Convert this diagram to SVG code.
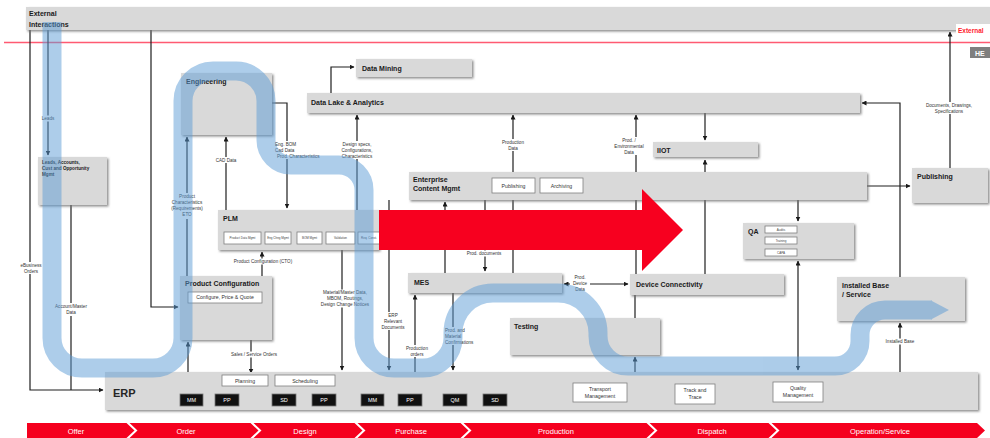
<svg xmlns="http://www.w3.org/2000/svg" width="990" height="438" viewBox="0 0 990 438">
<defs>
<filter id="sh" x="-5%" y="-5%" width="115%" height="130%">
<feDropShadow dx="1.5" dy="1.5" stdDeviation="0.8" flood-color="#6f6f6f" flood-opacity="0.8"/>
</filter>
<marker id="a" viewBox="0 0 10 10" refX="9" refY="5" markerWidth="5" markerHeight="5" markerUnits="userSpaceOnUse" orient="auto-start-reverse">
<path d="M0,0 L10,5 L0,10 z" fill="#1a1a1a"/>
</marker>
<style>
text{font-family:"Liberation Sans",Arial,sans-serif;}
.box{fill:#d9d9d9;filter:url(#sh);}
.tt{font-size:7px;font-weight:bold;fill:#1a1a1a;}
.ln{stroke:#1f1f1f;stroke-width:1.2;fill:none;}
.ar{marker-end:url(#a);}
.ab{marker-start:url(#a);marker-end:url(#a);}
.lb rect{fill:#fff;}
.lb text{font-size:4.6px;fill:#333;text-anchor:middle;}
.lb text.l{text-anchor:start;}
.sub{fill:#fff;stroke:#7f7f7f;stroke-width:0.8;}
.st{font-size:5.2px;fill:#333;text-anchor:middle;}
.tiny{font-size:3px;fill:#444;text-anchor:middle;}
.blk{fill:#111;stroke:#777;stroke-width:0.8;}
.bt{font-size:5.5px;fill:#fff;text-anchor:middle;}
.ph{fill:#f5001e;}
.pt{font-size:7.5px;fill:#fff;text-anchor:middle;}
</style>
</defs>
<rect width="990" height="438" fill="#fff"/>

<!-- red boundary line -->
<line x1="4" y1="42.5" x2="990" y2="42.5" stroke="#ff5a72" stroke-width="1.3"/>

<g id="connectors">
<path class="ln ar" d="M48,30 V155"/>
<path class="ln ar" d="M30,30 V390 H103"/>
<path class="ln" d="M71,205 V390"/>
<path class="ln ar" d="M151,30 V307 H178"/>
<path class="ln ar" d="M272,103 H287 V208"/>
<path class="ln ar" d="M226,210 V137"/>
<path class="ln ar" d="M187,276 V137"/>
<path class="ln ar" d="M262,276 V252"/>
<path class="ln ar" d="M188,372 V342"/>
<path class="ln ar" d="M251,340 V373"/>
<path class="ln ar" d="M331,93 V67 H354"/>
<path class="ln ar" d="M357,210 V115"/>
<path class="ln ar" d="M513,273 V115"/>
<path class="ln ar" d="M636,274 V115"/>
<path class="ln ar" d="M705,113 V140"/>
<path class="ln ar" d="M705,274 V160"/>
<path class="ln ar" d="M485,200 V271"/>
<path class="ln ar" d="M445,273 V202"/>
<path class="ln ar" d="M342,250 V370"/>
<path class="ln ar" d="M389,200 V370"/>
<path class="ln ar" d="M415,372 V295"/>
<path class="ln ar" d="M453,293 V370"/>
<path class="ln ab" d="M564,284 H628"/>
<path class="ln" d="M635,295 V318"/>
<path class="ln ar" d="M635,372 V357"/>
<path class="ln ar" d="M867,186 H910"/>
<path class="ln ar" d="M900,277 V103 H862"/>
<path class="ln ar" d="M950,168 V32"/>
<path class="ln ar" d="M798,200 V221"/>
<path class="ln ab" d="M798,261 V370"/>
<path class="ln ar" d="M900,372 V323"/>

<g class="lb"><rect x="40" y="115.5" width="16" height="6"/><text x="48" y="120">Leads</text></g>
<g class="lb"><rect x="21" y="262" width="20" height="12"/><text x="31" y="267">eBusiness</text><text x="31" y="273">Orders</text></g>
<g class="lb"><rect x="54" y="303" width="33" height="13"/><text x="71" y="308">Account/Master</text><text x="71" y="314">Data</text></g>
<g class="lb"><rect x="214" y="157" width="24" height="6"/><text x="226" y="161.5">CAD Data</text></g>
<g class="lb"><rect x="169" y="193" width="36" height="26"/><text x="187" y="198">Product</text><text x="187" y="204">Characteristics</text><text x="187" y="210">(Requirements)</text><text x="187" y="216">ETO</text></g>
<g class="lb"><rect x="273" y="141" width="52" height="18"/><text class="l" x="275" y="145.5">Eng. BOM</text><text class="l" x="275" y="151.5">Cad Data</text><text class="l" x="277" y="157.5">Prod. Characteristics</text></g>
<g class="lb"><rect x="229" y="258.5" width="67" height="6"/><text x="263" y="263">Product Configuration (CTO)</text></g>
<g class="lb"><rect x="226" y="351.5" width="56" height="6"/><text x="254" y="356">Sales / Service Orders</text></g>
<g class="lb"><rect x="339" y="141" width="37" height="18"/><text x="357" y="145.5">Design specs,</text><text x="357" y="151.5">Configurations,</text><text x="357" y="157.5">Characteristics</text></g>
<g class="lb"><rect x="321" y="289.5" width="49" height="18"/><text x="345" y="294">Material/Master Data,</text><text x="345" y="300">MBOM, Routings,</text><text x="345" y="306">Design Change Notices</text></g>
<g class="lb"><rect x="380" y="312" width="27" height="18"/><text x="393" y="316.5">ERP</text><text x="393" y="322.5">Relevant</text><text x="393" y="328.5">Documents</text></g>
<g class="lb"><rect x="404" y="345" width="27" height="12"/><text x="417" y="349.5">Production</text><text x="417" y="355.5">orders</text></g>
<g class="lb"><rect x="443" y="327" width="36" height="18"/><text class="l" x="445" y="331.5">Prod. and</text><text class="l" x="445" y="337.5">Material</text><text class="l" x="445" y="343.5">Confirmations</text></g>
<g class="lb"><rect x="464" y="250.5" width="41" height="6"/><text x="484" y="255">Prod. documents</text></g>
<g class="lb"><rect x="500" y="139" width="27" height="12"/><text x="513" y="143.5">Production</text><text x="513" y="149.5">Data</text></g>
<g class="lb"><rect x="610" y="137" width="38" height="18"/><text x="629" y="141.5">Prod. /</text><text x="629" y="147.5">Environmental</text><text x="629" y="153.5">Data</text></g>
<g class="lb"><rect x="922" y="102" width="54" height="12"/><text x="949" y="106.5">Documents, Drawings,</text><text x="949" y="112.5">Specifications</text></g>
<g class="lb"><rect x="570" y="274" width="20" height="18"/><text x="580" y="278.5">Prod.</text><text x="580" y="284.5">Device</text><text x="580" y="290.5">Data</text></g>
<g class="lb"><rect x="885" y="338.5" width="30" height="6"/><text x="900" y="343">Installed Base</text></g>
</g>

<g id="external">
<rect class="box" x="26" y="7" width="964" height="23"/>
<text class="tt" x="29" y="16">External</text>
<text class="tt" x="29" y="26.5">Interactions</text>
</g>
<g id="external-label">
<rect x="956" y="24" width="34" height="11" fill="#fff"/>
<text x="958" y="33" font-size="6.5" font-weight="bold" fill="#ff1a2e">External</text>
</g>
<g id="he">
<rect x="970" y="47" width="22" height="11" fill="#7f7f7f"/>
<text x="975" y="55.5" font-size="7" font-weight="bold" fill="#fff">HE</text>
</g>

<g id="engineering"><rect class="box" x="181" y="73" width="91" height="62"/><text class="tt" x="186" y="84">Engineering</text></g>
<g id="data-mining"><rect class="box" x="356" y="59" width="116" height="18"/><text class="tt" x="362" y="71">Data Mining</text></g>
<g id="data-lake"><rect class="box" x="307" y="93" width="553" height="20"/><text class="tt" x="311" y="105">Data Lake &amp; Analytics</text></g>
<g id="iiot"><rect class="box" x="653" y="142" width="105" height="15"/><text class="tt" x="657" y="152.5">IIOT</text></g>
<g id="ecm"><rect class="box" x="409" y="172" width="458" height="28"/>
<text class="tt" x="413" y="182">Enterprise</text><text class="tt" x="413" y="191">Content Mgmt</text>
<rect class="sub" x="492" y="178" width="43" height="15"/><text class="st" x="513.5" y="187.5">Publishing</text>
<rect class="sub" x="540" y="178" width="43" height="15"/><text class="st" x="561.5" y="187.5">Archiving</text></g>
<g id="publishing"><rect class="box" x="912" y="168" width="76" height="35"/><text class="tt" x="917" y="179">Publishing</text></g>
<g id="leads"><rect class="box" x="38" y="157" width="69" height="48"/>
<text x="42" y="164" font-size="4.6" font-weight="bold" fill="#1a1a1a">Leads, Accounts,</text>
<text x="42" y="170" font-size="4.6" font-weight="bold" fill="#1a1a1a">Cust and Opportunity</text>
<text x="42" y="176" font-size="4.6" font-weight="bold" fill="#1a1a1a">Mgmt</text></g>
<g id="plm"><rect class="box" x="218" y="210" width="161" height="40"/><text class="tt" x="223" y="221" font-size="7.5">PLM</text>
<rect class="sub" x="224" y="232" width="37" height="12"/><text class="tiny" x="242.5" y="239">Product Data Mgmt</text>
<rect class="sub" x="265" y="232" width="26" height="12"/><text class="tiny" x="278" y="239">Eng Chng Mgmt</text>
<rect class="sub" x="297" y="232" width="25" height="12"/><text class="tiny" x="309.5" y="239">BOM Mgmt</text>
<rect class="sub" x="326" y="232" width="29" height="12"/><text class="tiny" x="340.5" y="239">Validation</text>
<rect class="sub" x="358" y="232" width="22" height="12"/><text class="tiny" x="369" y="239">Req. Const.</text></g>
<g id="product-configuration"><rect class="box" x="180" y="276" width="92" height="64"/><text class="tt" x="185" y="286" font-size="6.6">Product Configuration</text>
<rect class="sub" x="188" y="292" width="74" height="11"/><text class="st" x="225" y="299" font-size="3.8">Configure, Price &amp; Quote</text></g>
<g id="mes"><rect class="box" x="408" y="273" width="154" height="20"/><text class="tt" x="414" y="285">MES</text></g>
<g id="device-connectivity"><rect class="box" x="630" y="274" width="154" height="21"/><text class="tt" x="636" y="287">Device Connectivity</text></g>
<g id="testing"><rect class="box" x="510" y="318" width="150" height="37"/><text class="tt" x="514" y="329">Testing</text></g>
<g id="qa"><rect class="box" x="743" y="223" width="111" height="36"/><text class="tt" x="748" y="234">QA</text>
<rect class="sub" x="765" y="226" width="32" height="7"/><text class="tiny" x="781" y="230.8">Audits</text>
<rect class="sub" x="765" y="237" width="32" height="7"/><text class="tiny" x="781" y="241.8">Training</text>
<rect class="sub" x="765" y="249" width="32" height="7"/><text class="tiny" x="781" y="253.8">CAPA</text></g>
<g id="installed-base"><rect class="box" x="837" y="277" width="128" height="44"/><text class="tt" x="842" y="288">Installed Base</text><text class="tt" x="842" y="297">/ Service</text></g>
<g id="erp"><rect class="box" x="105" y="372" width="873" height="38"/><text x="113" y="397" font-size="11" font-weight="bold" fill="#262626">ERP</text>
<rect class="sub" x="222" y="375" width="46" height="11"/><text class="st" x="245" y="382.5">Planning</text>
<rect class="sub" x="275" y="375" width="60" height="11"/><text class="st" x="305" y="382.5">Scheduling</text>
<rect class="blk" x="180" y="394" width="23" height="12"/><text class="bt" x="191.5" y="402">MM</text>
<rect class="blk" x="215" y="394" width="24" height="12"/><text class="bt" x="227" y="402">PP</text>
<rect class="blk" x="272" y="394" width="24" height="12"/><text class="bt" x="284" y="402">SD</text>
<rect class="blk" x="312" y="394" width="24" height="12"/><text class="bt" x="324" y="402">PP</text>
<rect class="blk" x="361" y="394" width="23" height="12"/><text class="bt" x="372.5" y="402">MM</text>
<rect class="blk" x="398" y="394" width="24" height="12"/><text class="bt" x="410" y="402">PP</text>
<rect class="blk" x="443" y="394" width="24" height="12"/><text class="bt" x="455" y="402">QM</text>
<rect class="blk" x="483" y="394" width="24" height="12"/><text class="bt" x="495" y="402">SD</text>
<rect class="sub" x="573" y="383" width="54" height="19"/><text class="st" x="600" y="391">Transport</text><text class="st" x="600" y="398">Management</text>
<rect class="sub" x="675" y="384" width="40" height="20"/><text class="st" x="695" y="392">Track and</text><text class="st" x="695" y="399">Trace</text>
<rect class="sub" x="773" y="382" width="50" height="20"/><text class="st" x="798" y="390">Quality</text><text class="st" x="798" y="397">Management</text></g>

<!-- blue process flow band -->
<g id="flow-band" opacity="0.5">
<path d="M52,22 V338 A30,30 0 0 0 82,368 H153 A30,30 0 0 0 183,338 V101 A30,30 0 0 1 213,71 H236 A30,30 0 0 1 266,101 V140 A25,25 0 0 0 291,165 H339 A25,25 0 0 1 364,190 V338 A30,30 0 0 0 394,368 H423 A30,30 0 0 0 453,338 V333 A40,40 0 0 1 493,293 H558 A40,40 0 0 1 598,333 V336 A30,30 0 0 0 628,366 H835 A25,25 0 0 0 860,341 V335 A25,25 0 0 1 885,310 H932" fill="none" stroke="#5b9bd5" stroke-width="19"/>
<polygon points="931,300.5 949,310 931,319.5" fill="#5b9bd5"/>
</g>

<!-- big red arrow -->
<polygon id="big-arrow" points="379,210 642,210 642,189 683,230 642,271 642,250 379,250" fill="#f7001f"/>

<!-- phase bar -->
<g id="phases">
<polygon class="ph" points="27,423 126.5,423 134.5,430.5 126.5,438 27,438"/>
<polygon class="ph" points="129.5,423 250.5,423 258.5,430.5 250.5,438 129.5,438 137.5,430.5"/>
<polygon class="ph" points="253.5,423 354.5,423 362.5,430.5 354.5,438 253.5,438 261.5,430.5"/>
<polygon class="ph" points="357.5,423 460.5,423 468.5,430.5 460.5,438 357.5,438 365.5,430.5"/>
<polygon class="ph" points="463.5,423 646.5,423 654.5,430.5 646.5,438 463.5,438 471.5,430.5"/>
<polygon class="ph" points="649.5,423 768.5,423 776.5,430.5 768.5,438 649.5,438 657.5,430.5"/>
<polygon class="ph" points="771.5,423 977,423 985,430.5 977,438 771.5,438 779.5,430.5"/>
<text class="pt" x="76" y="433.5">Offer</text>
<text class="pt" x="186" y="433.5">Order</text>
<text class="pt" x="305" y="433.5">Design</text>
<text class="pt" x="411" y="433.5">Purchase</text>
<text class="pt" x="556" y="433.5">Production</text>
<text class="pt" x="712" y="433.5">Dispatch</text>
<text class="pt" x="880" y="433.5">Operation/Service</text>
</g>
</svg>
